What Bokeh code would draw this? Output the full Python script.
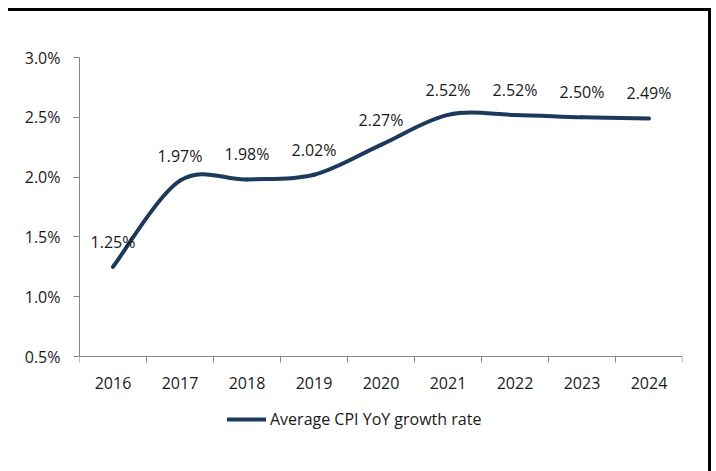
import numpy as np
from bokeh.plotting import figure
from bokeh.models import (ColumnDataSource, Range1d, FixedTicker, PrintfTickFormatter,
                          Legend, LegendItem, LabelSet)
from bokeh.core.properties import value
from bokeh.layouts import column
from bokeh.embed import file_html
from bokeh.resources import INLINE

years = ["2016", "2017", "2018", "2019", "2020", "2021", "2022", "2023", "2024"]
cpi = [1.25, 1.97, 1.98, 2.02, 2.27, 2.52, 2.52, 2.50, 2.49]
labels = ["1.25%", "1.97%", "1.98%", "2.02%", "2.27%", "2.52%", "2.52%", "2.50%", "2.49%"]
y_ticks = [0.5, 1.0, 1.5, 2.0, 2.5, 3.0]
y_min, y_max = 0.5, 3.0

FONT = "Open Sans"
FS = "16px"
LINE_COLOR = "#1B3A5C"
AXIS_COLOR = "#868686"
TEXT_COLOR = "#1a1a1a"

xs = np.arange(len(years)) + 0.5
ys = np.array(cpi)

# smoothed line (Catmull-Rom style bezier segments, like a spreadsheet "smoothed line")
px = np.concatenate([[xs[0]], xs, [xs[-1]]])
py = np.concatenate([[ys[0]], ys, [ys[-1]]])
seg = dict(x0=[], y0=[], x1=[], y1=[], cx0=[], cy0=[], cx1=[], cy1=[])
for i in range(1, len(px) - 2):
    seg["x0"].append(px[i]); seg["y0"].append(py[i])
    seg["x1"].append(px[i + 1]); seg["y1"].append(py[i + 1])
    seg["cx0"].append(px[i] + (px[i + 1] - px[i - 1]) / 6)
    seg["cy0"].append(py[i] + (py[i + 1] - py[i - 1]) / 6)
    seg["cx1"].append(px[i + 1] - (px[i + 2] - px[i]) / 6)
    seg["cy1"].append(py[i + 1] - (py[i + 2] - py[i]) / 6)
seg_src = ColumnDataSource(seg)
pt_src = ColumnDataSource(dict(x=xs, y=ys, label=labels))

# frame geometry: value axis spans 299 px; frame extends below it to hold the legend
W, H = 700, 460
top, bottom_border = 46, 20
axis_px = 299
frame_px = H - top - bottom_border
y_start = y_max - (y_max - y_min) * frame_px / axis_px

p = figure(width=W, height=H, output_backend="svg", toolbar_location=None,
           x_range=Range1d(0, len(years)), y_range=Range1d(y_start, y_max),
           min_border_left=71, min_border_right=26, min_border_top=top,
           min_border_bottom=bottom_border)
p.outline_line_color = None
p.background_fill_color = "white"
p.border_fill_color = "white"
p.xgrid.visible = False
p.ygrid.visible = False

r = p.bezier(x0="x0", y0="y0", x1="x1", y1="y1", cx0="cx0", cy0="cy0", cx1="cx1", cy1="cy1",
             source=seg_src, line_color=LINE_COLOR, line_width=4, line_cap="round")

lbl = LabelSet(x="x", y="y", text="label", source=pt_src, y_offset=25,
               text_align="center", text_baseline="middle",
               text_font=value(FONT), text_font_size=FS, text_color=TEXT_COLOR)
p.add_layout(lbl)

# x axis, drawn at the bottom of the value range
xa = p.xaxis[0]
xa.fixed_location = y_min
xa.ticker = FixedTicker(ticks=list(xs), minor_ticks=list(range(len(years) + 1)))
xa.major_label_overrides = {float(x): y for x, y in zip(xs, years)}
xa.major_tick_out = 0
xa.major_tick_in = 0
xa.minor_tick_in = 0
xa.minor_tick_out = 6
xa.minor_tick_line_color = AXIS_COLOR
xa.axis_line_color = AXIS_COLOR
xa.major_label_standoff = 14
xa.major_label_text_font = FONT
xa.major_label_text_font_size = FS
xa.major_label_text_color = TEXT_COLOR

# y axis
ya = p.yaxis[0]
ya.bounds = (y_min, y_max)
ya.ticker = FixedTicker(ticks=y_ticks, minor_ticks=[])
ya.formatter = PrintfTickFormatter(format="%.1f%%")
ya.major_tick_out = 6
ya.major_tick_in = 0
ya.major_tick_line_color = AXIS_COLOR
ya.axis_line_color = AXIS_COLOR
ya.major_label_standoff = 13
ya.major_label_text_font = FONT
ya.major_label_text_font_size = FS
ya.major_label_text_color = TEXT_COLOR

# legend bottom edge sits 419 px below the figure top
legend = Legend(items=[LegendItem(label="Average CPI YoY growth rate", renderers=[r])],
                location=(148, H - bottom_border - 419), orientation="horizontal",
                glyph_width=39, glyph_height=20, label_standoff=4,
                padding=0, margin=0,
                border_line_color=None, background_fill_alpha=0,
                label_text_font=FONT, label_text_font_size=FS, label_text_color=TEXT_COLOR)
p.add_layout(legend, "center")

inner = column(p, styles={"border-top": "3px solid black", "border-right": "3px solid black"})
layout = column(inner, styles={"padding-left": "8px", "padding-top": "8px",
                               "padding-right": "5px", "padding-bottom": "0px",
                               "background-color": "white"})

open("out.html", "w").write(file_html(layout, INLINE))
